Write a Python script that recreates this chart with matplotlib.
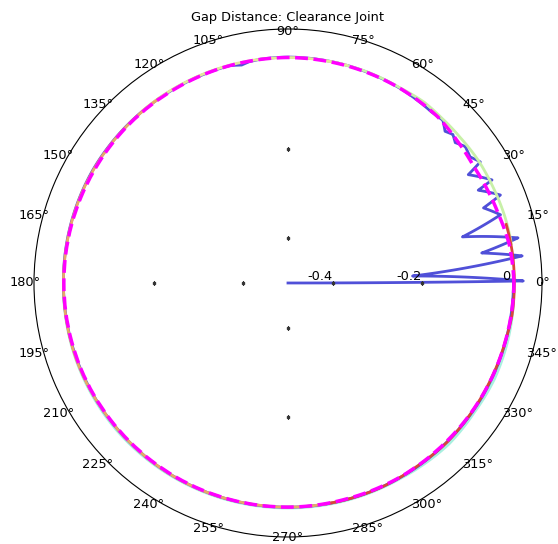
import numpy as np
import matplotlib
matplotlib.use("Agg")
import matplotlib.pyplot as plt

# gap distance traces, angle in degrees, gap in same units as radial axis
blue_theta = [0, 0.5, 3.2, 6.6, 8.8, 11.1, 14.8, 17.8, 21, 22.5, 26, 26.8, 31, 32.2,
              34.7, 37.6, 40, 42, 44, 46.4, 50, 60, 75, 90, 97, 100, 102, 105, 110,
              120, 150, 180, 210, 240, 270, 300, 330, 360]
blue_r = [-0.50, 0.028, -0.22, 0.029, -0.06, 0.026, -0.095, 0.001, -0.03, 0.016,
          -0.025, 0.013, -0.028, 0.010, -0.003, 0.002, -0.010, -0.002, -0.010, 0.004,
          0.001, 0.004, 0.006, 0.007, 0.006, 0.004, 0.000, 0.005, 0.005,
          0.005, 0.006, 0.004, 0.004, 0.004, 0.003, 0.004, 0.005, 0.006]

cyan_theta = [180, 200, 220, 240, 260, 280, 300, 315, 325, 335, 345, 355]
cyan_r = [0.004, 0.006, 0.007, 0.006, 0.005, 0.005, 0.006, 0.011, 0.009, 0.011, 0.010, 0.008]

green_theta = [10, 17, 25, 33, 40, 47, 53, 60, 70, 80]
green_r = [0.009, 0.009, 0.008, 0.008, 0.006, 0.006, 0.008, 0.005, 0.006, 0.006]

yellow_theta = [75, 90, 105, 120, 130]
yellow_r = [0.006, 0.006, 0.006, 0.006, 0.006]

tan_theta = [125, 140, 155, 170, 185, 200, 215, 230, 245, 260, 275, 285]
tan_r = [0.005, 0.005, 0.005, 0.004, 0.004, 0.005, 0.004, 0.004, 0.004, 0.003, 0.003, 0.003]

red_theta = [280, 295, 305, 315, 325, 335, 345, 352, 360, 368, 375]
red_r = [0.003, 0.004, 0.003, 0.005, 0.004, 0.004, 0.005, 0.008, 0.008, 0.008, 0.007]

magenta_theta = [0, 10, 18, 25, 32, 40, 48, 60, 75, 90, 105, 120, 135, 150, 165, 180,
                 195, 210, 225, 240, 255, 270, 285, 300, 315, 330, 345, 360]
magenta_r = [0.007, 0.004, -0.003, -0.006, -0.008, -0.004, 0.002, 0.004, 0.005, 0.006,
             0.005, 0.004, 0.004, 0.003, 0.003, 0.003, 0.003, 0.003, 0.003, 0.003,
             0.003, 0.003, 0.002, 0.003, 0.003, 0.004, 0.005, 0.007]

r_ticks = [-0.4, -0.2, 0]
r_tick_labels = ['-0.4', '-0.2', '0']
theta_ticks = list(range(0, 360, 15))

FS = 9.3

fig = plt.figure(figsize=(5.58, 5.44), dpi=100)
ax = fig.add_axes([0.0609, 0.0129, 0.9104, 0.9338], projection='polar')

lines = []
lines += ax.plot(np.deg2rad(cyan_theta), cyan_r, color='#a8f0e0', lw=2)
lines += ax.plot(np.deg2rad(blue_theta), blue_r, color='#4646d6', lw=2, alpha=0.95)
lines += ax.plot(np.deg2rad(green_theta), green_r, color='#c8f0a8', lw=2)
lines += ax.plot(np.deg2rad(yellow_theta), yellow_r, color='#e2e89a', lw=2)
lines += ax.plot(np.deg2rad(tan_theta), tan_r, color='#e8a868', lw=2)
lines += ax.plot(np.deg2rad(red_theta), red_r, color='#d8453a', lw=2)
lines += ax.plot(np.deg2rad(magenta_theta), magenta_r, color='#ff00ff', lw=2.5, linestyle='--')

# follow the polar arcs between samples instead of straight chords
for ln in lines:
    ln.get_path()._interpolation_steps = 40

ax.set_rlim(-0.5, 0.07)
ax.set_rticks(r_ticks)
ax.set_yticklabels([])
ax.set_thetagrids(theta_ticks)
ax.set_xticklabels([])
ax.grid(False)

# angle labels anchored by their inner edge just inside the rim (old-style layout)
for deg in theta_ticks:
    c, s = np.cos(np.deg2rad(deg)), np.sin(np.deg2rad(deg))
    ha = 'left' if c > 0.1 else ('right' if c < -0.1 else 'center')
    va = 'baseline' if s > 0.1 else ('top' if s < -0.1 else 'center')
    ax.text(0.5 + 0.486 * c, 0.5 + 0.488 * s, f'{deg}\u00b0', transform=ax.transAxes,
            ha=ha, va=va, fontsize=FS)

# small radial tick marks in the four main directions
for ang in [0, 90, 180, 270]:
    ax.plot([np.deg2rad(ang)] * 2, r_ticks[:2], linestyle='none', marker='s',
            markersize=1.5, color='#333333')
for r, lab in zip(r_ticks, r_tick_labels):
    ax.text(0, r, lab, ha='right', va='bottom', fontsize=FS)

ax.set_title('Gap Distance: Clearance Joint', fontsize=FS)

fig.savefig('out.png', dpi=100)
